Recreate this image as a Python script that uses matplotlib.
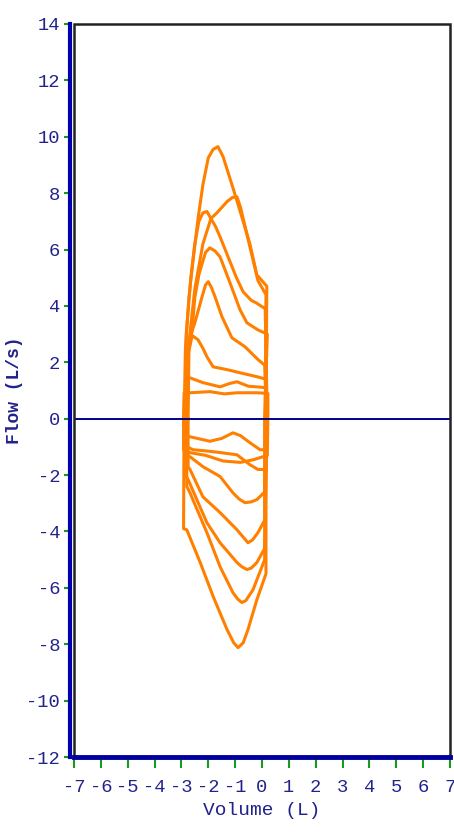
import matplotlib.pyplot as plt
from matplotlib.patches import Rectangle

plt.rcParams['axes.unicode_minus'] = False

# flow-volume loops: expiratory (upper) and inspiratory (lower) branches, volume in L, flow in L/s
upper_curves = [
    [(-2.90, 0.0), (-2.85, 2.5), (-2.72, 4.3), (-2.57, 5.6), (-2.38, 7.1), (-2.2, 8.3), (-2.0, 9.25),
     (-1.82, 9.55), (-1.64, 9.65), (-1.45, 9.3), (-1.27, 8.76), (-1.0, 7.94), (-0.7, 7.0),
     (-0.45, 6.2), (-0.19, 5.1), (0.18, 4.7)],
    [(-2.80, 0.0), (-2.78, 2.2), (-2.5, 4.6), (-2.2, 6.2), (-1.9, 7.1), (-1.68, 7.3), (-1.3, 7.7),
     (-1.1, 7.85), (-0.93, 7.87), (-0.8, 7.5), (-0.65, 6.9), (-0.4, 5.9), (-0.15, 4.9), (0.15, 4.4)],
    [(-2.85, 0.0), (-2.82, 3.0), (-2.65, 5.0), (-2.5, 6.2), (-2.35, 7.0), (-2.2, 7.3), (-2.05, 7.35),
     (-1.9, 7.1), (-1.72, 6.8), (-1.56, 6.45), (-1.19, 5.57), (-0.95, 5.0), (-0.7, 4.5),
     (-0.4, 4.2), (-0.2, 4.1), (0.12, 3.9)],
    [(-2.75, 0.0), (-2.72, 2.4), (-2.6, 3.15), (-2.5, 4.3), (-2.35, 5.1), (-2.23, 5.5), (-2.1, 5.9),
     (-1.94, 6.06), (-1.75, 5.95), (-1.56, 5.74), (-1.19, 4.82), (-0.82, 3.87), (-0.56, 3.4),
     (-0.15, 3.15), (0.2, 3.0)],
    [(-2.88, 0.0), (-2.8, 2.5), (-2.68, 2.9), (-2.5, 3.4), (-2.23, 4.33), (-2.1, 4.75), (-2.0, 4.86),
     (-1.88, 4.65), (-1.75, 4.33), (-1.49, 3.62), (-1.12, 2.87), (-0.63, 2.55), (-0.15, 2.1),
     (0.1, 1.9)],
    [(-2.78, 0.0), (-2.75, 2.3), (-2.6, 2.95), (-2.38, 2.8), (-2.2, 2.5), (-2.05, 2.2), (-1.82, 1.84),
     (-1.3, 1.74), (-0.82, 1.63), (-0.19, 1.49), (0.16, 1.4)],
    [(-2.82, 0.0), (-2.8, 1.4), (-2.68, 1.45), (-2.2, 1.28), (-1.56, 1.13), (-1.2, 1.25),
     (-0.93, 1.31), (-0.5, 1.15), (-0.19, 1.13), (0.14, 1.1)],
    [(-2.92, 0.0), (-2.9, 0.92), (-2.68, 0.92), (-1.94, 0.96), (-1.4, 0.88), (-0.93, 0.92),
     (-0.19, 0.92), (0.22, 0.9)],
]

lower_curves = [
    [(0.15, 0.0), (0.15, -5.5), (-0.19, -6.42), (-0.52, -7.48), (-0.7, -7.95), (-0.89, -8.12),
     (-1.05, -7.95), (-1.3, -7.48), (-1.82, -6.3), (-2.3, -5.1), (-2.8, -3.94), (-2.92, -3.9),
     (-2.90, 0.0)],
    [(0.12, 0.0), (0.1, -5.0), (-0.33, -6.06), (-0.6, -6.45), (-0.75, -6.52), (-0.9, -6.4),
     (-1.08, -6.17), (-1.56, -5.25), (-2.05, -4.04), (-2.68, -2.63), (-2.8, -2.4), (-2.80, 0.0)],
    [(0.2, 0.0), (0.1, -4.6), (-0.19, -5.1), (-0.4, -5.3), (-0.56, -5.35), (-0.75, -5.25),
     (-0.93, -5.1), (-1.56, -4.4), (-2.05, -3.69), (-2.75, -2.16), (-2.85, -2.0), (-2.85, 0.0)],
    [(0.1, 0.0), (0.1, -3.6), (-0.15, -4.04), (-0.35, -4.3), (-0.52, -4.4), (-0.7, -4.2),
     (-0.93, -3.94), (-1.56, -3.33), (-2.2, -2.77), (-2.68, -1.8), (-2.75, -1.7), (-2.75, 0.0)],
    [(0.18, 0.0), (0.1, -2.6), (-0.19, -2.87), (-0.4, -2.95), (-0.63, -2.98), (-0.85, -2.85),
     (-1.08, -2.63), (-1.56, -2.05), (-2.2, -1.7), (-2.68, -1.35), (-2.88, -1.3), (-2.88, 0.0)],
    [(0.16, 0.0), (0.15, -1.8), (-0.15, -1.8), (-0.45, -1.63), (-0.93, -1.28), (-1.56, -1.2),
     (-2.0, -1.15), (-2.57, -1.1), (-2.78, -1.0), (-2.78, 0.0)],
    [(0.14, 0.0), (0.14, -1.1), (-0.07, -1.1), (-0.45, -0.85), (-0.8, -0.6), (-1.08, -0.5),
     (-1.5, -0.7), (-1.94, -0.8), (-2.68, -0.64), (-2.82, -0.6), (-2.82, 0.0)],
    [(0.22, 0.0), (0.2, -1.3), (-0.3, -1.45), (-0.8, -1.55), (-1.45, -1.5), (-2.1, -1.3),
     (-2.7, -1.2), (-2.92, -1.1), (-2.92, 0.0)],
]

x_ticks = list(range(-7, 8))
y_ticks = list(range(-12, 15, 2))

orange = '#ff8000'
navy = '#00008b'
label_color = '#22228c'

fig = plt.figure(figsize=(4.54, 8.39), dpi=100)
ax = fig.add_axes([0.163, 0.0977, 0.828, 0.8737])

for up, low in zip(upper_curves, lower_curves):
    xs = [p[0] for p in up] + [p[0] for p in low]
    ys = [p[1] for p in up] + [p[1] for p in low]
    ax.plot(xs, ys, color=orange, lw=2.2, solid_joinstyle='round')

ax.axhline(0, color=navy, lw=1.4, zorder=3)

ax.set_xlim(-7, 7)
ax.set_ylim(-12, 14)
ax.set_xticks(x_ticks)
ax.set_yticks(y_ticks)

# black frame plus blue axis lines
ax.add_patch(Rectangle((0, 0), 1, 1, transform=ax.transAxes, fill=False,
                       edgecolor='#222222', lw=1.8, zorder=4, clip_on=False))
for side in ['top', 'right']:
    ax.spines[side].set_visible(False)
ax.spines['left'].set_color('#0000b0')
ax.spines['left'].set_linewidth(3)
ax.spines['left'].set_position(('outward', 3))
ax.spines['bottom'].set_color('#0000a0')
ax.spines['bottom'].set_linewidth(3.5)
ax.spines['bottom'].set_zorder(5)

ax.tick_params(axis='y', direction='out', length=4, width=1.5, color='#1a9a1a',
               labelcolor=label_color, labelsize=13.5, pad=3)
ax.tick_params(axis='x', direction='out', length=8, width=1.5, color='#1a9a1a',
               labelcolor=label_color, labelsize=13.5, pad=8)
for lbl in ax.get_xticklabels() + ax.get_yticklabels():
    lbl.set_family('Liberation Mono')

ax.set_xlabel('Volume (L)', family='Liberation Mono', fontsize=14, color=label_color, labelpad=4)
ax.set_ylabel('Flow (L/s)', family='Liberation Mono', fontsize=13, fontweight='bold',
              color=label_color)
ax.yaxis.set_label_coords(-0.135, 0.5)

fig.savefig('out.png', dpi=100)
